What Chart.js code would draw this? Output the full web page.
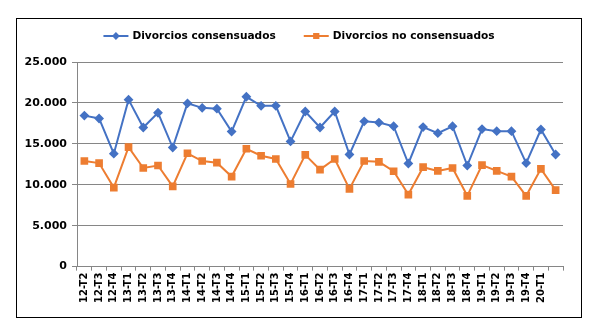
<!DOCTYPE html>
<html>
<head>
<meta charset="utf-8">
<script src="https://cdn.jsdelivr.net/npm/chart.js@4"></script>
<style>
  body { margin: 0; background: #fff; }
  #box { position: absolute; left: 16px; top: 18px; width: 566px; height: 300px; border: 1px solid #000; box-sizing: border-box; }
</style>
</head>
<body>
<div id="box"><canvas id="myChart"></canvas></div>
<script>
const periods = ["12-T2", "12-T3", "12-T4", "13-T1", "13-T2", "13-T3", "13-T4", "14-T1", "14-T2", "14-T3", "14-T4",
  "15-T1", "15-T2", "15-T3", "15-T4", "16-T1", "16-T2", "16-T3", "16-T4", "17-T1", "17-T2", "17-T3", "17-T4",
  "18-T1", "18-T2", "18-T3", "18-T4", "19-T1", "19-T2", "19-T3", "19-T4", "20-T1", ""];
const consensuados = [18450, 18100, 13800, 20400, 17000, 18800, 14550, 19950, 19400, 19300, 16500,
  20750, 19650, 19650, 15300, 18950, 17000, 18950, 13700, 17750, 17600, 17150, 12600,
  17050, 16300, 17150, 12350, 16800, 16550, 16550, 12650, 16750, 13700];
const noConsensuados = [12900, 12650, 9650, 14600, 12050, 12350, 9800, 13850, 12900, 12700, 11000,
  14400, 13550, 13150, 10100, 13650, 11850, 13150, 9500, 12900, 12800, 11650, 8800,
  12150, 11700, 12050, 8650, 12400, 11700, 11000, 8650, 11950, 9350];
const yTicks = [0, 5000, 10000, 15000, 20000, 25000];

const font = "DejaVu Sans";

// legend with line + marker, like the spreadsheet one
const lineLegend = {
  id: "lineLegend",
  afterDraw(chart) {
    const ctx = chart.ctx;
    ctx.save();
    ctx.font = "bold 10.6px '" + font + "'";
    ctx.textBaseline = "middle";
    const sets = chart.data.datasets;
    const widths = sets.map((d) => 25 + 4 + ctx.measureText(d.label).width);
    const gap = 28;
    const total = widths.reduce((a, b) => a + b, 0) + gap * (sets.length - 1);
    let x = (chart.width - total) / 2;
    const y = 17;
    sets.forEach((d, i) => {
      ctx.strokeStyle = d.borderColor;
      ctx.lineWidth = 2;
      ctx.beginPath();
      ctx.moveTo(x, y);
      ctx.lineTo(x + 25, y);
      ctx.stroke();
      ctx.fillStyle = d.pointBackgroundColor;
      ctx.strokeStyle = d.borderColor;
      Chart.helpers.drawPoint(ctx, {
        pointStyle: d.pointStyle,
        radius: d.pointStyle === "rect" ? 3 : 2.5,
        borderWidth: 1,
      }, x + 12.5, y);
      ctx.fillStyle = "#000";
      ctx.fillText(d.label, x + 29, y);
      x += widths[i] + gap;
    });
    ctx.restore();
  },
};

const ctx = document.getElementById("myChart").getContext("2d");
const chart1 = new Chart(ctx, {
  type: "line",
  data: {
    labels: periods,
    datasets: [
      {
        label: "Divorcios consensuados",
        data: consensuados,
        borderColor: "#4472C4",
        backgroundColor: "#4472C4",
        pointBackgroundColor: "#4472C4",
        pointBorderColor: "#4472C4",
        pointStyle: "rectRot",
        pointRadius: 3.5,
        borderWidth: 2,
        tension: 0,
      },
      {
        label: "Divorcios no consensuados",
        data: noConsensuados,
        borderColor: "#ED7D31",
        backgroundColor: "#ED7D31",
        pointBackgroundColor: "#ED7D31",
        pointBorderColor: "#ED7D31",
        pointStyle: "rect",
        pointRadius: 4,
        borderWidth: 2,
        tension: 0,
      },
    ],
  },
  options: {
    responsive: true,
    maintainAspectRatio: false,
    animation: false,
    layout: { padding: { top: 43, left: 8, right: 18, bottom: 12 } },
    plugins: {
      legend: { display: false },
      tooltip: { enabled: false },
    },
    scales: {
      x: {
        offset: true,
        grid: { display: true, drawOnChartArea: false, offset: true, tickLength: 4, color: "#868686" },
        border: { color: "#868686" },
        ticks: {
          autoSkip: false,
          maxRotation: 90,
          minRotation: 90,
          padding: 2,
          color: "#000",
          font: { family: font, size: 10, weight: "bold" },
        },
      },
      y: {
        min: 0,
        max: 25000,
        afterBuildTicks: (s) => { s.ticks = yTicks.map((v) => ({ value: v })); },
        afterFit: (s) => { s.width = 52; },
        grid: { color: "#868686", tickLength: 5 },
        border: { color: "#868686" },
        ticks: {
          padding: 5,
          color: "#000",
          font: { family: font, size: 11, weight: "bold" },
          callback: (v) => v.toLocaleString("de-DE"),
        },
      },
    },
  },
  plugins: [lineLegend],
});
</script>
</body>
</html>
